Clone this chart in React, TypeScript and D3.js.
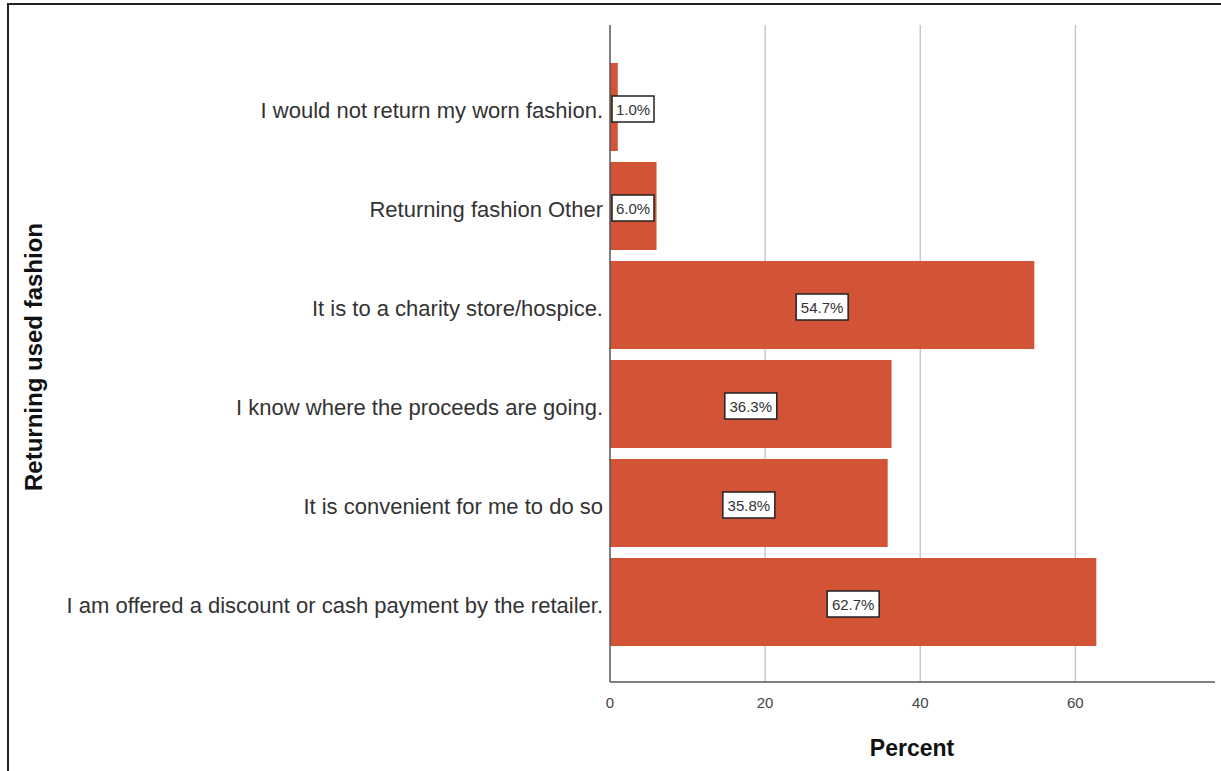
import React from "react";
import * as d3 from "d3";

const categories = [
  "I would not return my worn fashion.",
  "Returning fashion Other",
  "It is to a charity store/hospice.",
  "I know where the proceeds are going.",
  "It is convenient for me to do so",
  "I am offered a discount or cash payment by the retailer.",
];
const percents = [1.0, 6.0, 54.7, 36.3, 35.8, 62.7];
const xTicks = [0, 20, 40, 60];

const W = 1221;
const H = 771;

export default function App() {
  const x = d3.scaleLinear().domain([0, 78]).range([610, 1215]);
  const y = d3
    .scaleBand<string>()
    .domain(categories)
    .range([57.5, 651.5])
    .paddingInner(0.111)
    .paddingOuter(0.0555);
  const axisTop = 25;
  const axisY = 682;
  const font = "'Liberation Sans', Arial, sans-serif";
  const bw = y.bandwidth();

  return (
    <svg
      width={W}
      height={H}
      style={{ position: "absolute", left: 0, top: 0, background: "#fff" }}
      fontFamily={font}
    >
      <rect x={8} y={4} width={W + 20} height={H + 20} fill="#fff" stroke="#222" strokeWidth={2} />
      {/* grid lines */}
      {xTicks.filter((t) => t > 0).map((t) => (
        <line key={t} x1={x(t)} x2={x(t)} y1={axisTop} y2={axisY} stroke="#c8c8c8" strokeWidth={1.5} />
      ))}
      {/* bars */}
      {categories.map((c, i) => (
        <rect key={c} x={x(0)} y={y(c)} width={x(percents[i]) - x(0)} height={bw} fill="#d25335" />
      ))}
      {/* axes */}
      <line x1={x(0)} x2={x(0)} y1={axisTop} y2={axisY} stroke="#555" strokeWidth={1.5} />
      <line x1={x(0)} x2={x(78)} y1={axisY} y2={axisY} stroke="#555" strokeWidth={1.5} />
      {xTicks.map((t) => (
        <text key={t} x={x(t)} y={708} textAnchor="middle" fontSize={15} fill="#444">
          {t}
        </text>
      ))}
      {/* category labels */}
      {categories.map((c) => (
        <text
          key={c}
          x={603}
          y={(y(c) as number) + bw / 2 + 11}
          textAnchor="end"
          fontSize={22}
          fill="#333"
        >
          {c}
        </text>
      ))}
      {/* data labels */}
      {categories.map((c, i) => {
        const label = percents[i].toFixed(1) + "%";
        const bwid = label.length > 4 ? 52 : 42;
        const barW = x(percents[i]) - x(0);
        const cx = barW > bwid + 10 ? x(0) + barW / 2 : x(0) + 2 + bwid / 2;
        const cy = (y(c) as number) + bw / 2 + 2;
        return (
          <g key={c}>
            <rect x={cx - bwid / 2} y={cy - 13} width={bwid} height={26} fill="#fff" stroke="#222" strokeWidth={1.5} />
            <text x={cx} y={cy + 5.5} textAnchor="middle" fontSize={15} fill="#333">
              {label}
            </text>
          </g>
        );
      })}
      {/* axis titles */}
      <text x={912} y={756} textAnchor="middle" fontSize={23} fontWeight="bold" fill="#111">
        Percent
      </text>
      <text
        transform={`translate(42,357) rotate(-90)`}
        textAnchor="middle"
        fontSize={24}
        fontWeight="bold"
        fill="#111"
      >
        Returning used fashion
      </text>
    </svg>
  );
}
